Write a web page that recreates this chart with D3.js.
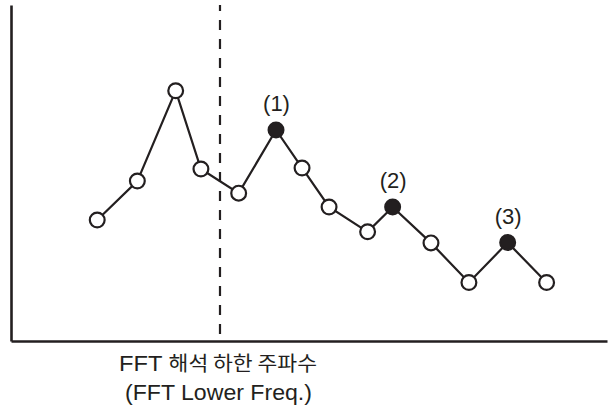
<!DOCTYPE html>
<html>
<head>
<meta charset="utf-8">
<script src="https://cdn.jsdelivr.net/npm/d3@7"></script>
<style>
  html, body { margin: 0; padding: 0; background: #fff; }
  svg { display: block; }
</style>
</head>
<body>
<svg id="chart" width="609" height="408"></svg>
<script>
// ---- data ----
const freq      = [4.34, 6.36, 8.29, 9.56, 11.46, 13.34, 14.65, 16.01, 17.95, 19.21, 21.14, 23.05, 25.0, 26.96];
const amplitude = [36.0, 47.6, 74.5, 51.2, 44.0, 62.8, 51.5, 39.9, 32.5, 39.9, 29.2, 17.4, 29.3, 17.4];
const peakLabels = ["", "", "", "", "", "(1)", "", "", "", "(2)", "", "", "(3)", ""];
const fftLowerFreq = 10.52;
const xLabelKo = "해석 하한 주파수";
const xLabelPrefix = "FFT ";
const xLabelEn = "(FFT Lower Freq.)";

// ---- layout ----
const ink = "#231f20";
const svg = d3.select("#chart");
const x = d3.scaleLinear().domain([0, 30]).range([11, 607]);
const y = d3.scaleLinear().domain([0, 100]).range([341, 5]);

const data = freq.map((f, i) => ({ f, a: amplitude[i], label: peakLabels[i], peak: peakLabels[i] !== "" }));

// axes (domain lines only)
svg.append("g").attr("transform", `translate(0,${y(0)})`)
  .call(d3.axisBottom(x).tickValues([]).tickSizeOuter(0));
svg.append("g").attr("transform", `translate(${x(0)},0)`)
  .call(d3.axisLeft(y).tickValues([]).tickSizeOuter(0));
svg.selectAll(".domain").attr("stroke", ink).attr("stroke-width", 2.6);

// dashed FFT lower frequency line
svg.append("line")
  .attr("x1", x(fftLowerFreq)).attr("x2", x(fftLowerFreq))
  .attr("y1", y(100)).attr("y2", y(0))
  .attr("stroke", ink).attr("stroke-width", 2.2)
  .attr("stroke-dasharray", "10,9").attr("stroke-dashoffset", 4);

// connecting line
svg.append("path").datum(data)
  .attr("fill", "none").attr("stroke", ink).attr("stroke-width", 2.2)
  .attr("d", d3.line().x(d => x(d.f)).y(d => y(d.a)));

// markers
svg.selectAll("circle.pt").data(data).enter().append("circle")
  .attr("class", "pt")
  .attr("cx", d => x(d.f)).attr("cy", d => y(d.a)).attr("r", 7.4)
  .attr("fill", d => d.peak ? ink : "#fff")
  .attr("stroke", ink).attr("stroke-width", 2.2);

// peak labels
svg.selectAll("text.peak").data(data.filter(d => d.peak)).enter().append("text")
  .attr("class", "peak")
  .attr("x", d => x(d.f) + 0.5).attr("y", d => y(d.a) - 19)
  .attr("text-anchor", "middle")
  .attr("font-family", "'Liberation Sans', Arial, sans-serif")
  .attr("font-size", 22).attr("fill", ink)
  .text(d => d.label);

// x label under the dashed line
const t1 = svg.append("text")
  .attr("x", x(fftLowerFreq) - 2).attr("y", 371)
  .attr("text-anchor", "middle")
  .attr("font-family", "'Liberation Sans', Arial, 'Noto Sans CJK KR', sans-serif")
  .attr("font-size", 22).attr("fill", ink)
  .attr("textLength", 198).attr("lengthAdjust", "spacingAndGlyphs");
t1.append("tspan").text(xLabelPrefix);
t1.append("tspan").attr("font-size", 20).attr("font-family", "'Noto Sans CJK KR', sans-serif").text(xLabelKo);

svg.append("text")
  .attr("x", x(fftLowerFreq) - 1.5).attr("y", 400)
  .attr("text-anchor", "middle")
  .attr("font-family", "'Liberation Sans', Arial, sans-serif")
  .attr("font-size", 22).attr("fill", ink)
  .attr("textLength", 187).attr("lengthAdjust", "spacingAndGlyphs")
  .text(xLabelEn);
</script>
</body>
</html>
